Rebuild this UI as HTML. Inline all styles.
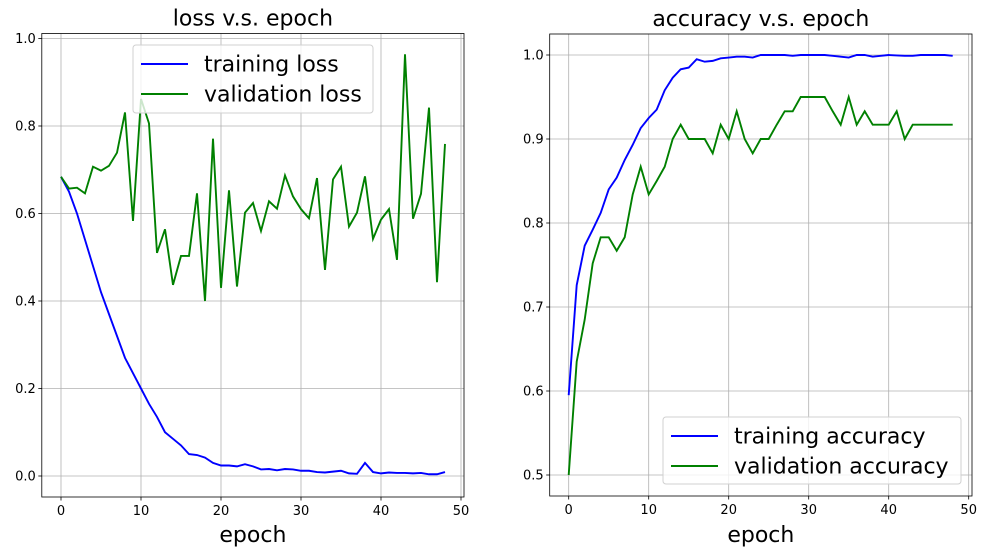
<!DOCTYPE html>
<html><head><meta charset="utf-8"><style>
body{margin:0;background:#fff;}
svg text{font-family:"DejaVu Sans","Liberation Sans",sans-serif;}
</style></head><body>
<svg id="c" width="987" height="555" xmlns="http://www.w3.org/2000/svg"></svg>
<script>
const epochs = Array.from({length:49},(_,i)=>i);
const trainLoss = [0.684,0.65,0.60,0.54,0.48,0.42,0.37,0.32,0.27,0.235,0.20,0.165,0.135,0.10,0.085,0.07,0.05,0.048,0.042,0.03,0.024,0.024,0.022,0.027,0.022,0.015,0.016,0.013,0.016,0.015,0.012,0.012,0.009,0.008,0.01,0.012,0.006,0.005,0.03,0.009,0.006,0.008,0.007,0.007,0.006,0.007,0.004,0.004,0.009];
const valLoss = [0.684,0.657,0.659,0.646,0.707,0.698,0.709,0.739,0.831,0.583,0.862,0.806,0.510,0.564,0.437,0.503,0.503,0.646,0.400,0.771,0.430,0.653,0.433,0.602,0.624,0.560,0.628,0.611,0.687,0.639,0.610,0.589,0.681,0.471,0.678,0.707,0.570,0.602,0.685,0.542,0.586,0.610,0.494,0.964,0.588,0.645,0.842,0.443,0.759];
const trainAcc = [0.595,0.726,0.773,0.792,0.812,0.84,0.854,0.875,0.893,0.913,0.925,0.935,0.958,0.973,0.983,0.985,0.995,0.992,0.993,0.996,0.997,0.998,0.998,0.997,1.0,1.0,1.0,1.0,0.999,1.0,1.0,1.0,1.0,0.999,0.998,0.997,1.0,1.0,0.998,0.999,1.0,0.9995,0.999,0.999,1.0,1.0,1.0,1.0,0.999];
const valAcc = [0.5,0.635,0.685,0.752,0.783,0.783,0.767,0.783,0.834,0.867,0.834,0.85,0.867,0.9,0.917,0.9,0.9,0.9,0.883,0.917,0.9,0.933,0.9,0.883,0.9,0.9,0.917,0.933,0.933,0.95,0.95,0.95,0.95,0.933,0.917,0.95,0.917,0.933,0.917,0.917,0.917,0.933,0.9,0.917,0.917,0.917,0.917,0.917,0.917];
const xTicks = [0,10,20,30,40,50];
const lossTicks = [0,0.2,0.4,0.6,0.8,1.0];
const accTicks = [0.5,0.6,0.7,0.8,0.9,1.0];

const NS="http://www.w3.org/2000/svg";
const svg=document.getElementById('c');
function mk(tag,attrs,parent){const e=document.createElementNS(NS,tag);for(const k in attrs)e.setAttribute(k,attrs[k]);(parent||svg).appendChild(e);return e;}

function panel(cfg){
  const g=mk('g',{});
  
  
  const xs=v=>cfg.x0+v*8.0;
  const ys=v=>cfg.yBase-(v-cfg.yRef)*cfg.yScale;
  const L=cfg.left,R=cfg.right,T=cfg.top,B=cfg.bottom;
  xTicks.forEach(t=>{
    const x=xs(t);
    const gl=mk('line',{x1:x,x2:x,y1:T,y2:B,stroke:'#b0b0b0','stroke-width':0.8},g);
    
    mk('line',{x1:x,x2:x,y1:B,y2:B+3.5,stroke:'#000','stroke-width':0.8},g);
    const tx=mk('text',{x:x,y:B+18,'font-size':13,'text-anchor':'middle'},g);
    tx.textContent=String(t);
    
  });
  cfg.yTicks.forEach(t=>{
    const y=ys(t);
    const gl=mk('line',{x1:L,x2:R,y1:y,y2:y,stroke:'#b0b0b0','stroke-width':0.8},g);
    
    mk('line',{x1:L-3.5,x2:L,y1:y,y2:y,stroke:'#000','stroke-width':0.8},g);
    const tx=mk('text',{x:L-6,y:y+4.5,'font-size':13,'text-anchor':'end'},g);
    tx.textContent=t.toFixed(1);
    
  });
  cfg.series.forEach(s=>{
    const d=s.data.map((v,i)=>(i?'L':'M')+xs(epochs[i]).toFixed(2)+','+ys(v).toFixed(2)).join(' ');
    const p=mk('path',{d:d,fill:'none',stroke:s.color,'stroke-width':1.9},g);
    
  });
  const fr=mk('rect',{x:L,y:T,width:R-L,height:B-T,fill:'none',stroke:'#000','stroke-width':0.8},g);
  
  const ti=mk('text',{x:(L+R)/2,y:T-8,'font-size':22,'text-anchor':'middle'},g);
  ti.textContent=cfg.title;
  const xl=mk('text',{x:(L+R)/2,y:542,'font-size':22,'text-anchor':'middle'},g);
  xl.textContent='epoch';
  const lg=cfg.legend;
  const lgG=mk('g',{},g);
  
  mk('rect',{x:lg.x,y:lg.y,width:lg.w,height:lg.h,rx:3,fill:'#fff','fill-opacity':0.8,stroke:'#d0d0d0','stroke-width':1},lgG);
  cfg.series.forEach((s,i)=>{
    const yy=lg.y+19+i*30;
    mk('line',{x1:lg.x+8,x2:lg.x+55,y1:yy,y2:yy,stroke:s.color,'stroke-width':1.9},lgG);
    const t=mk('text',{x:lg.x+71,y:yy+7.5,'font-size':22},lgG);
    t.textContent=s.label;
  });
}
panel({name:'loss-panel',title:'loss v.s. epoch',x0:61,yBase:476,yRef:0,yScale:437.5,left:41.8,right:464,top:33.5,bottom:497,yTicks:lossTicks,
  legend:{x:133,y:45,w:240,h:68},
  series:[{name:'training-loss-line',label:'training loss',color:'#0000ff',data:trainLoss},{name:'validation-loss-line',label:'validation loss',color:'#008000',data:valLoss}]});
panel({name:'accuracy-panel',title:'accuracy v.s. epoch',x0:568.7,yBase:475,yRef:0.5,yScale:840,left:549.7,right:972,top:34,bottom:496,yTicks:accTicks,
  legend:{x:663,y:417,w:298,h:67},
  series:[{name:'training-accuracy-line',label:'training accuracy',color:'#0000ff',data:trainAcc},{name:'validation-accuracy-line',label:'validation accuracy',color:'#008000',data:valAcc}]});
</script>
</body></html>
